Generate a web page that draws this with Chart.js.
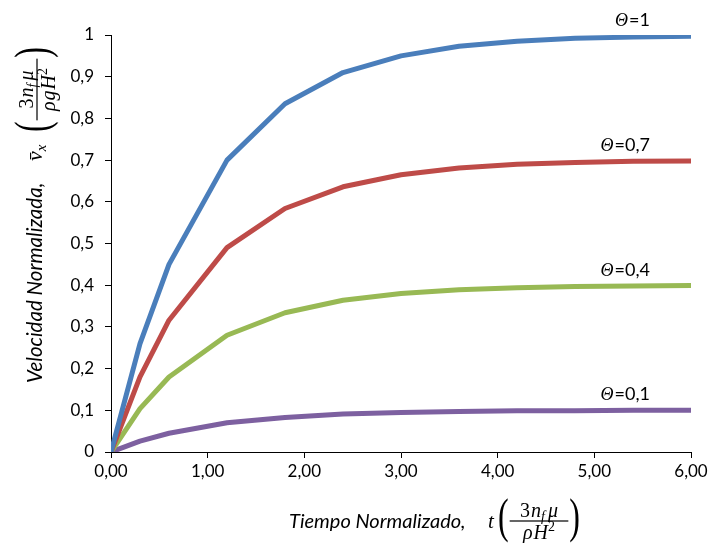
<!DOCTYPE html>
<html>
<head>
<meta charset="utf-8">
<script src="https://cdn.jsdelivr.net/npm/chart.js@4/dist/chart.umd.min.js"></script>
<style>
html, body { margin: 0; padding: 0; background: #fff; }
#wrap { width: 711px; height: 543px; }
</style>
</head>
<body>
<div id="wrap"><canvas id="chart" width="711" height="543"></canvas></div>
<script>
// tiempo normalizado (eje x)
const tiempo = [0, 0.3, 0.6, 1.2, 1.8, 2.4, 3.0, 3.6, 4.2, 4.8, 5.4, 6.0];

// velocidad normalizada por cada theta
const theta1  = [0, 0.26, 0.45, 0.70, 0.835, 0.91, 0.95, 0.973, 0.985, 0.992, 0.995, 0.997];
const theta07 = [0, 0.18, 0.316, 0.49, 0.584, 0.636, 0.665, 0.681, 0.69, 0.694, 0.697, 0.698];
const theta04 = [0, 0.104, 0.18, 0.28, 0.334, 0.364, 0.38, 0.389, 0.394, 0.397, 0.398, 0.399];
const theta01 = [0, 0.026, 0.045, 0.07, 0.083, 0.091, 0.095, 0.097, 0.099, 0.099, 0.1, 0.1];

const thetaLabels = ['1', '0,7', '0,4', '0,1'];
const colores = ['#4a7ebb', '#be4b48', '#98b954', '#7d60a0'];

const SANS = 'Lato, "Open Sans", sans-serif';
const SERIF = '"Liberation Serif", serif';

let toPoints = ys => ys.map((y, i) => ({ x: tiempo[i], y: y }));

let series = [theta1, theta07, theta04, theta01];
let datasets = series.map((s, i) => ({
    label: 'Θ=' + thetaLabels[i],
    data: toPoints(s),
    borderColor: colores[i],
    backgroundColor: colores[i],
    borderWidth: 5,
    pointRadius: 0,
    tension: 0,
    borderJoinStyle: 'round',
    borderCapStyle: 'round'
}));

function runsWidth(ctx, runs) {
    let w = 0;
    for (const r of runs) {
        ctx.font = r.font;
        w += ctx.measureText(r.t).width + (r.gap || 0);
    }
    return w;
}

function drawRuns(ctx, runs, x, y) {
    for (const r of runs) {
        ctx.font = r.font;
        ctx.fillText(r.t, x, y + (r.dy || 0));
        x += ctx.measureText(r.t).width + (r.gap || 0);
    }
    return x;
}

function drawParen(ctx, ch, x, y) {
    ctx.save();
    ctx.font = '32px ' + SERIF;
    ctx.translate(x, y);
    ctx.scale(1, 1.5);
    ctx.textBaseline = 'middle';
    ctx.fillText(ch, 0, -1);
    ctx.restore();
}

// fraction in parentheses between x0 and x1, lineY = fraction bar
function drawGroup(ctx, num, den, x0, x1, lineY) {
    drawParen(ctx, '(', x0, lineY);
    ctx.font = '32px ' + SERIF;
    let pw = ctx.measureText(')').width;
    drawParen(ctx, ')', x1 - pw, lineY);
    let a = x0 + pw + 1, b = x1 - pw - 1;
    let nw = runsWidth(ctx, num), dw = runsWidth(ctx, den);
    let c = (a + b) / 2;
    drawRuns(ctx, num, c - nw / 2, lineY - 4);
    drawRuns(ctx, den, c - dw / 2, lineY + 18);
    ctx.fillRect(a, lineY - 0.6, b - a, 1.2);
}

const fr = '20px ' + SERIF;
const frI = 'italic 20px ' + SERIF;
const frS = 'italic 14px ' + SERIF;
const numerador = [{ t: '3', font: fr, gap: 1 }, { t: 'n', font: frI }, { t: 'f', font: frS, dy: 4, gap: 3 }, { t: 'μ', font: frI }];
const denX = [{ t: 'ρ', font: frI, gap: 1 }, { t: 'H', font: frI }, { t: '2', font: '14px ' + SERIF, dy: -8 }];
const denY = [{ t: 'ρ', font: frI, gap: 1 }, { t: 'g', font: frI, gap: 1 }, { t: 'H', font: frI }, { t: '2', font: '14px ' + SERIF, dy: -8 }];

const titulos = {
    id: 'titulos',
    afterDraw(chart) {
        let ctx = chart.ctx;
        let ys = chart.scales.y, xs = chart.scales.x;
        ctx.save();
        ctx.fillStyle = '#000';
        ctx.textAlign = 'left';
        ctx.textBaseline = 'alphabetic';

        // etiquetas theta al final de cada curva
        series.forEach((s, i) => {
            let runs = [
                { t: 'Θ', font: 'italic 18px ' + SERIF, gap: 1 },
                { t: '=' + thetaLabels[i], font: '18px ' + SANS }
            ];
            let w = runsWidth(ctx, runs);
            let yl = ys.getPixelForValue(s[s.length - 1]) - 10;
            drawRuns(ctx, runs, xs.getPixelForValue(6) - 41 - w, yl);
        });

        // titulo eje x
        drawRuns(ctx, [{ t: 'Tiempo Normalizado,', font: 'italic 20px ' + SANS }], 289, 528);
        drawRuns(ctx, [{ t: 't', font: 'italic 21px ' + SERIF }], 488, 528);
        drawGroup(ctx, numerador, denX, 498, 580, 521);

        // titulo eje y (rotado)
        ctx.translate(42, 0);
        ctx.rotate(-Math.PI / 2);
        drawRuns(ctx, [{ t: 'Velocidad Normalizada,', font: 'italic 20.5px ' + SANS }], -383, 0);
        drawRuns(ctx, [
            { t: 'v\u0304', font: 'italic 22px ' + SERIF },
            { t: 'x', font: 'italic 15px ' + SERIF, dy: 4 }
        ], -161, 0);
        drawGroup(ctx, numerador, denY, -132, -47, -5);
        ctx.restore();
    }
};

let chart = new Chart('chart', {
    type: 'line',
    data: { datasets: datasets },
    plugins: [titulos],
    options: {
        responsive: false,
        animation: false,
        events: [],
        layout: { padding: { top: 35, right: 20, left: 0, bottom: 0 } },
        plugins: {
            legend: { display: false },
            tooltip: { enabled: false }
        },
        scales: {
            x: {
                type: 'linear',
                min: 0,
                max: 6,
                afterFit: s => { s.height = 91; },
                ticks: {
                    stepSize: 1,
                    color: '#000',
                    padding: 3,
                    font: { family: SANS, size: 17 },
                    callback: v => v.toFixed(2).replace('.', ',')
                },
                grid: { drawOnChartArea: false, color: '#000', tickLength: 6 },
                border: { color: '#000', width: 1 }
            },
            y: {
                min: 0,
                max: 1,
                afterFit: s => { s.width = 111; },
                ticks: {
                    stepSize: 0.1,
                    color: '#000',
                    padding: 11,
                    font: { family: SANS, size: 17 },
                    callback: v => String(Math.round(v * 10) / 10).replace('.', ',')
                },
                grid: { drawOnChartArea: false, color: '#000', tickLength: 6 },
                border: { color: '#000', width: 1 }
            }
        }
    }
});
</script>
</body>
</html>
